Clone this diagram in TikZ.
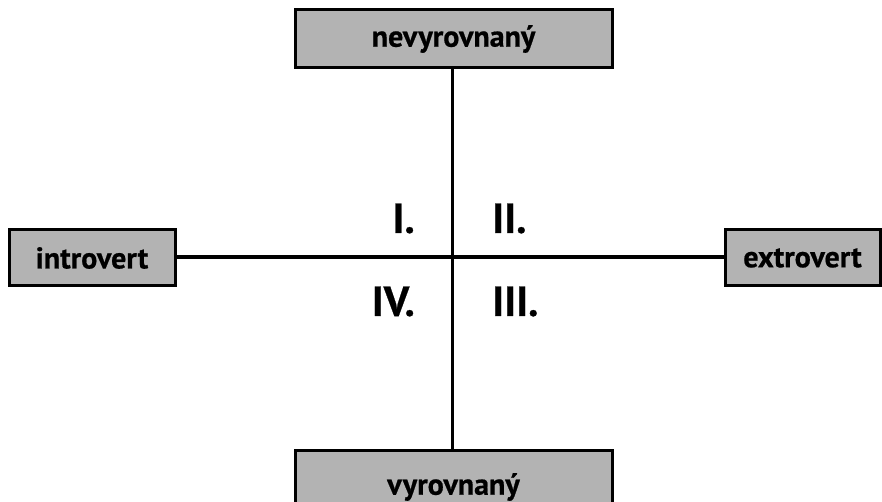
\documentclass[tikz,border=0pt]{standalone}
\usepackage{fontspec}
\setmainfont{PT Sans}[BoldFont={PT Sans Bold},BoldFeatures={FakeBold=0.6}]
\definecolor{boxgray}{RGB}{179,179,179}
\begin{document}
\begin{tikzpicture}[x=1pt,y=1pt,
  lbox/.style={draw=black,line width=3pt,fill=boxgray,inner sep=0pt,font=\fontsize{30}{34}\selectfont\bfseries},
  axis/.style={draw=black,line width=3.6pt},
  quad/.style={inner sep=0pt,font=\fontsize{42}{46}\selectfont\bfseries}]
\clip (0,0) rectangle (882,502);
\fill[white] (0,0) rectangle (882,502);
\node[lbox,minimum width=317,minimum height=58] (top) at (453.5,463) {nevyrovnaný};
\node[lbox,minimum width=317,minimum height=72] (bot) at (453.5,15) {vyrovnaný};
\node[lbox,minimum width=166,minimum height=56] (left) at (92,244) {introvert};
\node[lbox,minimum width=155,minimum height=56] (right) at (802.5,244) {extrovert};
\coordinate (c) at (452.5,245);
\draw[axis] (top.south -| c) -- (bot.north -| c);
\draw[axis] (left.east |- c) -- (right.west |- c);
\node[quad,anchor=base east] (q1) at (415,269) {I.};
\node[quad,anchor=base west] (q2) at (492,269) {II.};
\node[quad,anchor=base east] (q4) at (415,186) {IV.};
\node[quad,anchor=base west] (q3) at (492,186) {III.};
\end{tikzpicture}
\end{document}
